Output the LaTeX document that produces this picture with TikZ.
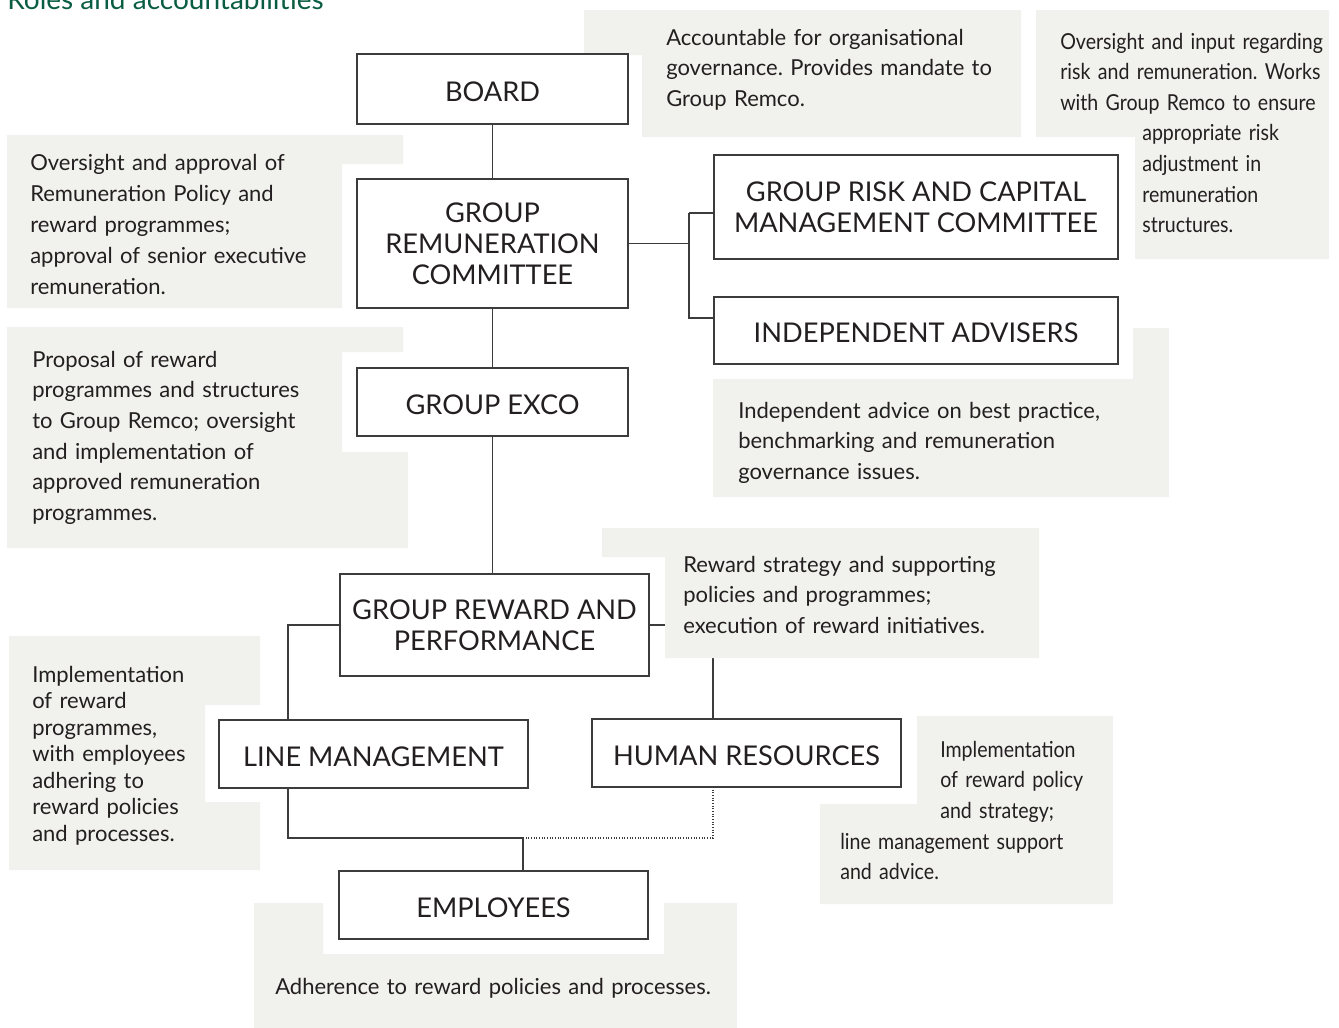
\documentclass[tikz,border=0pt]{standalone}
\usepackage{fontspec}
\setmainfont{Lato}
\newfontfamily\condfont[FakeStretch=0.89]{Lato}
\definecolor{greyfill}{RGB}{241,241,237}
\definecolor{inkcol}{RGB}{35,31,32}
\definecolor{linecol}{RGB}{60,60,60}
\definecolor{titlegreen}{RGB}{10,92,66}
\pgfdeclarelayer{background}
\pgfsetlayers{background,main}
\hyphenpenalty=10000
\exhyphenpenalty=10000
\frenchspacing
\begin{document}
\begin{tikzpicture}[x=0.75pt,y=-0.75pt,
  orgbox/.style={draw=linecol, line width=1pt, fill=white, inner sep=0pt, align=center,
     text=inkcol, font=\fontsize{20.4}{23.25}\selectfont,
     execute at begin node={\rule{0pt}{18.6pt}}},
  desc/.style={inner sep=0pt, align=left, text=inkcol,
     font=\fontsize{16.5}{23}\selectfont},
  conddesc/.style={inner sep=0pt, align=left, text=inkcol,
     font=\condfont\fontsize{16.5}{23}\selectfont},
  conn/.style={draw=linecol, line width=0.8pt},
  dotconn/.style={draw=linecol, line width=0.8pt, dash pattern=on 0.8pt off 1.2pt}]
\useasboundingbox (0,0) rectangle (1339,1028);

% title
\node[anchor=base west, inner sep=0pt, text=titlegreen, font=\fontsize{21}{24}\selectfont] (title) at (7,9) {Roles and accountabilities};

% boxes
\node[orgbox, minimum width=203.25pt, minimum height=52.5pt] (board) at (492.5,89) {BOARD};
\node[orgbox, minimum width=203.25pt, minimum height=96.75pt] (grc) at (492.5,243.5) {GROUP\\REMUNERATION\\COMMITTEE};
\node[orgbox, minimum width=203.25pt, minimum height=51pt] (exco) at (492.5,402) {GROUP EXCO};
\node[orgbox, minimum width=303pt, minimum height=78pt] (grcmc) at (916,207) {GROUP RISK AND CAPITAL\\MANAGEMENT COMMITTEE};
\node[orgbox, minimum width=303pt, minimum height=50.25pt] (ia) at (916,330.5) {INDEPENDENT ADVISERS};
\node[orgbox, minimum width=231.75pt, minimum height=76.5pt] (grp) at (494.5,625) {GROUP REWARD AND\\PERFORMANCE};
\node[orgbox, minimum width=231.75pt, minimum height=51pt] (lm) at (373.5,754) {LINE MANAGEMENT};
\node[orgbox, minimum width=231.75pt, minimum height=51pt] (hr) at (746.5,753) {HUMAN RESOURCES};
\node[orgbox, minimum width=231.75pt, minimum height=51pt] (emp) at (493.5,905) {EMPLOYEES};

% connectors
\coordinate (a1) at (689,213);
\coordinate (a2) at (689,318);
\coordinate (hrin) at (713,719);
\coordinate (lmin) at (288,720);
\coordinate (lmout) at (288,788);
\coordinate (jn) at (523,838);
\coordinate (hrout) at (713,787);
\draw[conn] (board.south) -- (grc.north);
\draw[conn] (grc.south) -- (exco.north);
\draw[conn] (exco.south) -- (exco.south |- grp.north);
\draw[conn] (grc.east) -- (grc.east -| a1);
\draw[conn] (a1) -- (a1 -| grcmc.west);
\draw[conn] (a1) -- (a2) -- (a2 -| ia.west);
\draw[conn] (grp.west) -| (lmin);
\draw[conn] (lmout) |- (jn) -- (jn |- emp.north);
\draw[dotconn] (hrout) |- (jn);

\begin{pgfonlayer}{background}
\draw[conn] (grp.east) -| (hrin);
% grey panels
\fill[greyfill] (584,10) -- (1021,10) -- (1021,137) -- (642,137) -- (642,55) -- (584,55) -- cycle;
\fill[greyfill] (1036,10) -- (1329,10) -- (1329,259) -- (1135,259) -- (1135,137) -- (1036,137) -- cycle;
\fill[greyfill] (7,135) -- (403,135) -- (403,164) -- (342,164) -- (342,308) -- (7,308) -- cycle;
\fill[greyfill] (7,327) -- (403,327) -- (403,352) -- (342,352) -- (342,452) -- (408,452) -- (408,548) -- (7,548) -- cycle;
\fill[greyfill] (1133,328) -- (1169,328) -- (1169,497) -- (713,497) -- (713,379) -- (1133,379) -- cycle;
\fill[greyfill] (602,528) -- (1039,528) -- (1039,658) -- (665,658) -- (665,557) -- (602,557) -- cycle;
\fill[greyfill] (917,716) -- (1113,716) -- (1113,904) -- (820,904) -- (820,804) -- (917,804) -- cycle;
\fill[greyfill] (9,636) -- (260,636) -- (260,705) -- (205,705) -- (205,802) -- (260,802) -- (260,870) -- (9,870) -- cycle;
\fill[greyfill] (254,903) -- (323,903) -- (323,954) -- (664,954) -- (664,903) -- (737,903) -- (737,1028) -- (254,1028) -- cycle;
\end{pgfonlayer}

% descriptions
\node[desc, text width=265pt, anchor=base west] (dboard) at (666,45) {Accountable for organisational\\governance. Provides mandate to\\Group Remco.};
\node[conddesc, text width=205pt, anchor=base west] (dgrcmc) at (1060,49) {Oversight and input regarding\\risk and remuneration. Works\\with Group Remco to ensure\\\hspace*{61.5pt}appropriate risk\\\hspace*{61.5pt}adjustment in\\\hspace*{61.5pt}remuneration\\\hspace*{61.5pt}structures.};
\node[desc, text width=240pt, anchor=base west, font=\fontsize{16.5}{23.3}\selectfont] (dgrc) at (30,170) {Oversight and approval of\\Remuneration Policy and\\reward programmes;\\approval of senior executive\\remuneration.};
\node[desc, text width=240pt, anchor=base west] (dexco) at (32,367) {Proposal of reward\\programmes and structures\\to Group Remco; oversight\\and implementation of\\approved remuneration\\programmes.};
\node[desc, text width=300pt, anchor=base west] (dia) at (738,418) {Independent advice on best practice,\\benchmarking and remuneration\\governance issues.};
\node[desc, text width=270pt, anchor=base west] (dgrp) at (683,572) {Reward strategy and supporting\\policies and programmes;\\execution of reward initiatives.};
\node[desc, text width=150pt, anchor=base west, font=\fontsize{16.5}{19.9}\selectfont] (dlm) at (32,682) {Implementation\\of reward\\programmes,\\with employees\\adhering to\\reward policies\\and processes.};
\node[conddesc, text width=200pt, anchor=base west] (dhr) at (840,757) {\hspace*{75pt}Implementation\\\hspace*{75pt}of reward policy\\\hspace*{75pt}and strategy;\\line management support\\and advice.};
\node[desc, text width=345pt, anchor=base west] (demp) at (275,994) {Adherence to reward policies and processes.};
\end{tikzpicture}
\end{document}
